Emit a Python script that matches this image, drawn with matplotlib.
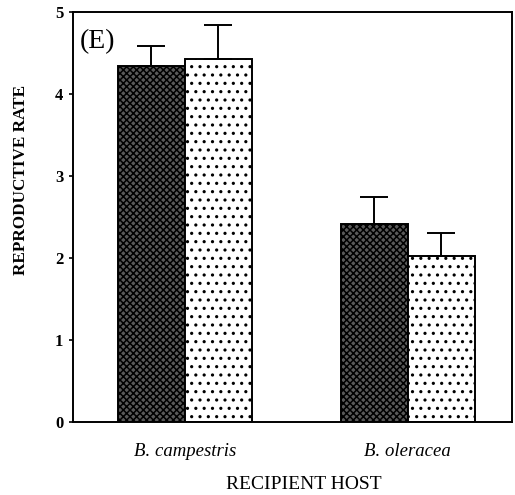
import matplotlib
matplotlib.use("Agg")
import matplotlib.pyplot as plt
import numpy as np

plt.rcParams["font.family"] = ["Liberation Serif", "DejaVu Serif"]
plt.rcParams["hatch.linewidth"] = 1.1

hosts = ["B. campestris", "B. oleracea"]
series_a = [4.34, 2.41]        # dark cross-hatched bars
series_a_err = [0.25, 0.34]
series_b = [4.43, 2.02]        # dotted bars
series_b_err = [0.41, 0.28]
yticks = [0, 1, 2, 3, 4, 5]

fig = plt.figure(figsize=(5.15, 4.95), dpi=100)
ax = fig.add_axes([0.1417, 0.1475, 0.852, 0.828])

x = np.arange(len(hosts))
w = 0.30
err_kw = dict(elinewidth=1.4, capsize=10, capthick=1.4, ecolor="black")

ax.bar(x - w / 2, series_a, width=w, facecolor="#5a5a5a", edgecolor="black",
       hatch="xxxxx", linewidth=1.4, zorder=2,
       yerr=[np.zeros(len(series_a)), series_a_err], error_kw=err_kw)
ax.bar(x + w / 2, series_b, width=w, facecolor="white", edgecolor="black",
       hatch="..", linewidth=1.4, zorder=2,
       yerr=[np.zeros(len(series_b)), series_b_err], error_kw=err_kw)

ax.set_xlim(-0.502, 1.466)
ax.set_ylim(0, 5)
ax.set_yticks(yticks)
ax.set_yticklabels([str(t) for t in yticks], fontweight="bold", fontsize=12)
ax.set_xticks(x)
ax.set_xticklabels(hosts, fontstyle="italic", fontsize=13.5)
ax.tick_params(axis="x", length=0, pad=15)
ax.tick_params(axis="y", length=3, width=1.2, direction="out", pad=4)
for s in ax.spines.values():
    s.set_linewidth(1.4)

ax.set_ylabel("REPRODUCTIVE RATE", fontweight="bold", fontsize=12.3)
ax.yaxis.label.set_horizontalalignment("center")
ax.yaxis.label.set_verticalalignment("center")
ax.yaxis.set_label_coords(-0.119, 0.59)
ax.set_xlabel("RECIPIENT HOST", fontsize=14)
ax.xaxis.label.set_verticalalignment("center")
ax.xaxis.set_label_coords(0.525, -0.153)
ax.text(0.016, 0.958, "(E)", transform=ax.transAxes, fontsize=20,
        ha="left", va="top")

fig.savefig("out.png", dpi=100)
